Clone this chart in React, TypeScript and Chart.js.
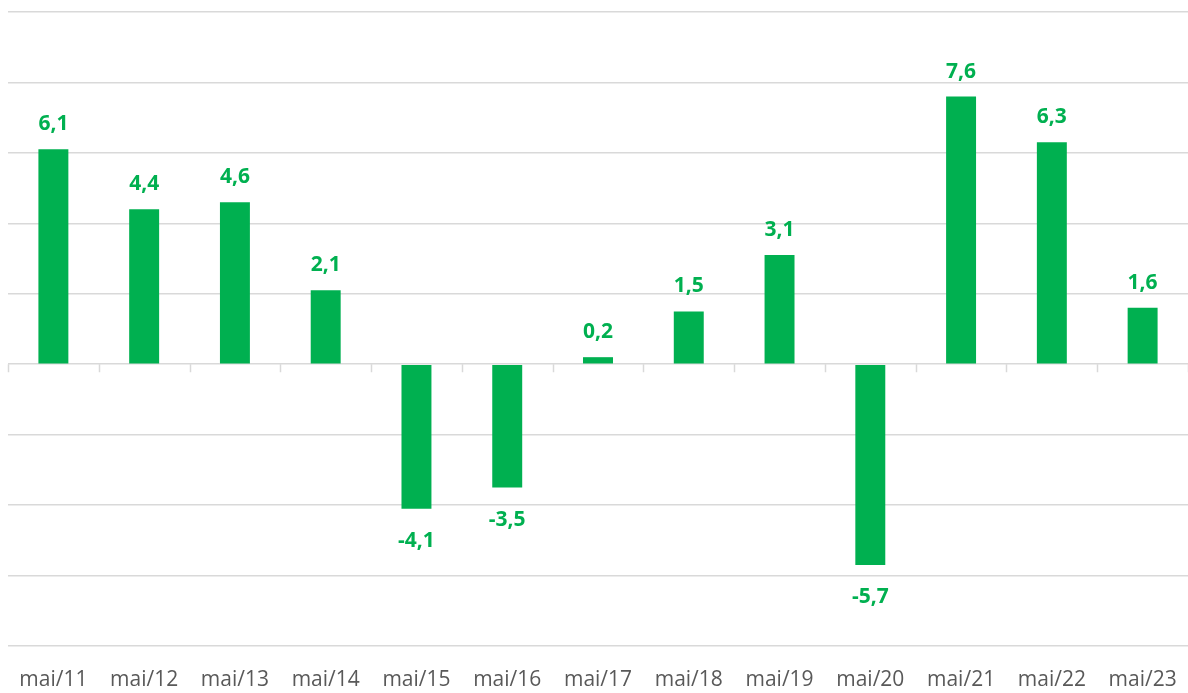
import React, { useEffect, useRef } from "react";
import { Chart, registerables } from "chart.js";

Chart.register(...registerables);

const categories = ["mai/11", "mai/12", "mai/13", "mai/14", "mai/15", "mai/16", "mai/17", "mai/18", "mai/19", "mai/20", "mai/21", "mai/22", "mai/23"];
const values = [6.1, 4.4, 4.6, 2.1, -4.1, -3.5, 0.2, 1.5, 3.1, -5.7, 7.6, 6.3, 1.6];
const yMin = -8;
const yMax = 10;
const yStep = 2;

const GREEN = "#00b050";
const GRID = "#d9d9d9";

const labelPlugin = {
  id: "valueLabels",
  afterDatasetsDraw(chart: any) {
    const ctx = chart.ctx;
    const meta = chart.getDatasetMeta(0);
    ctx.save();
    ctx.fillStyle = GREEN;
    ctx.font = "bold 21px 'Open Sans'";
    ctx.textAlign = "center";
    ctx.textBaseline = "alphabetic";
    meta.data.forEach((bar: any, i: number) => {
      const v = values[i];
      const txt = v.toFixed(1).replace(".", ",");
      if (v >= 0) {
        ctx.fillText(txt, bar.x, bar.y - 19);
      } else {
        ctx.fillText(txt, bar.x, bar.y + 38);
      }
    });
    ctx.restore();
  },
};

const zeroTicksPlugin = {
  id: "zeroTicks",
  beforeDatasetsDraw(chart: any) {
    const ctx = chart.ctx;
    const x = chart.scales.x;
    const y = chart.scales.y;
    const y0 = y.getPixelForValue(0);
    const n = categories.length;
    const w = (x.right - x.left) / n;
    ctx.save();
    ctx.strokeStyle = GRID;
    ctx.lineWidth = 1.5;
    ctx.beginPath();
    for (let i = 0; i <= n; i++) {
      const px = Math.round(x.left + i * w) + 0.5;
      ctx.moveTo(px, y0);
      ctx.lineTo(px, y0 + 8);
    }
    ctx.stroke();
    ctx.restore();
  },
};

export default function App() {
  const ref = useRef<HTMLCanvasElement | null>(null);
  useEffect(() => {
    document.body.style.margin = "0";
    const chart = new Chart(ref.current as HTMLCanvasElement, {
      type: "bar",
      data: {
        labels: categories,
        datasets: [
          {
            data: values,
            backgroundColor: GREEN,
            borderWidth: 0,
            barPercentage: 0.66,
            categoryPercentage: 0.5,
          },
        ],
      },
      options: {
        animation: false,
        responsive: false,
        layout: { padding: { left: 8, right: 0, top: 12, bottom: 0 } },
        plugins: { legend: { display: false }, tooltip: { enabled: false } },
        scales: {
          x: {
            grid: { display: false, drawTicks: false },
            border: { display: false },
            ticks: {
              color: "#595959",
              font: { family: "'Open Sans'", size: 21 },
              padding: 21,
              maxRotation: 0,
              autoSkip: false,
            },
            afterFit(scale: any) {
              scale.height = 47;
              scale.paddingLeft = 0;
              scale.paddingRight = 0;
            },
          },
          y: {
            min: yMin,
            max: yMax,
            ticks: { display: false, stepSize: yStep },
            grid: { color: GRID, lineWidth: 1.5, drawTicks: false },
            border: { display: false },
            afterFit(scale: any) {
              scale.width = 0;
              scale.paddingTop = 0;
              scale.paddingBottom = 0;
            },
          },
        },
      },
      plugins: [zeroTicksPlugin, labelPlugin],
    });
    return () => chart.destroy();
  }, []);
  return <canvas ref={ref} width={1188} height={693} style={{ display: "block" }} />;
}
